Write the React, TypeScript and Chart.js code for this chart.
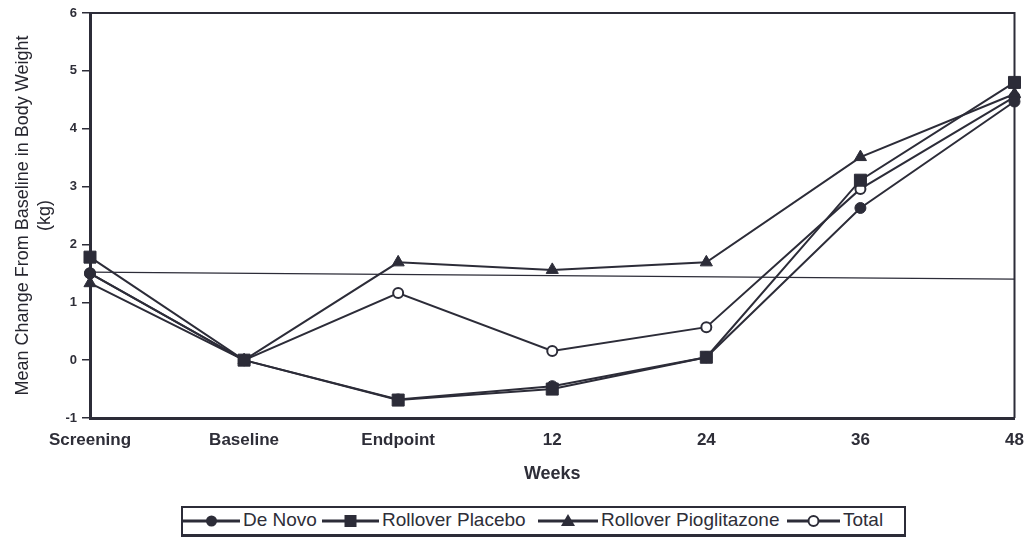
import React, { useEffect, useRef } from "react";
import { Chart, registerables } from "chart.js";

Chart.register(...registerables);

const categories = ["Screening", "Baseline", "Endpoint", "12", "24", "36", "48"];
const deNovo = [1.5, 0, -0.68, -0.45, 0.05, 2.63, 4.47];
const rolloverPlacebo = [1.78, 0, -0.69, -0.5, 0.05, 3.11, 4.8];
const rolloverPioglitazone = [1.33, 0, 1.69, 1.56, 1.69, 3.51, 4.6];
const total = [1.5, 0, 1.16, 0.16, 0.57, 2.96, 4.55];
const referenceLine = [1.52, null, null, null, null, null, 1.4];
const seriesNames = ["De Novo", "Rollover Placebo", "Rollover Pioglitazone", "Total"];
const yTitle = ["Mean Change From Baseline in Body Weight", "(kg)"];
const xTitle = "Weeks";

const INK = "#2c2c38";
const TEXT = "#2e2e38";
const FONT = "Arial, 'Liberation Sans', sans-serif";

const framePlugin = {
  id: "frame",
  beforeDatasetsDraw(chart: any) {
    const { ctx, chartArea } = chart;
    const { left, top, right, bottom } = chartArea;
    ctx.save();
    ctx.strokeStyle = INK;
    ctx.lineWidth = 2;
    ctx.beginPath();
    ctx.moveTo(left, top);
    ctx.lineTo(right, top);
    ctx.lineTo(right, bottom);
    ctx.stroke();
    ctx.restore();
  },
};

function LegendSymbol({ kind, width }: { kind: string; width: number }) {
  const cx = width / 2;
  const cy = 9;
  let marker: React.ReactNode = null;
  if (kind === "circle") marker = <circle cx={cx} cy={cy} r={5.5} fill={INK} />;
  if (kind === "square") marker = <rect x={cx - 6} y={cy - 6} width={12} height={12} fill={INK} />;
  if (kind === "triangle")
    marker = <polygon points={`${cx},${cy - 7} ${cx + 7},${cy + 5} ${cx - 7},${cy + 5}`} fill={INK} />;
  if (kind === "open")
    marker = <circle cx={cx} cy={cy} r={5} fill="#fff" stroke={INK} strokeWidth={2} />;
  return (
    <svg width={width} height={18} style={{ display: "block" }}>
      <line x1={0} y1={cy} x2={width} y2={cy} stroke={INK} strokeWidth={3} />
      {marker}
    </svg>
  );
}

export default function App() {
  const ref = useRef<HTMLCanvasElement>(null);

  useEffect(() => {
    if (!ref.current) return;
    const mk = (label: string, data: (number | null)[], style: any, radius: number, open = false) => ({
      label,
      data,
      borderColor: INK,
      backgroundColor: open ? "#ffffff" : INK,
      pointBackgroundColor: open ? "#ffffff" : INK,
      pointBorderColor: INK,
      pointBorderWidth: open ? 2 : 1,
      borderWidth: 2,
      pointStyle: style,
      pointRadius: radius,
      tension: 0,
      fill: false,
      clip: false,
    });
    const chart = new Chart(ref.current, {
      type: "line",
      data: {
        labels: categories,
        datasets: [
          mk(seriesNames[0], deNovo, "circle", 5.5),
          mk(seriesNames[1], rolloverPlacebo, "rect", 8.5),
          mk(seriesNames[2], rolloverPioglitazone, "triangle", 7),
          mk(seriesNames[3], total, "circle", 5, true),
          {
            label: "ref",
            data: referenceLine,
            borderColor: INK,
            borderWidth: 1.2,
            pointRadius: 0,
            spanGaps: true,
            fill: false,
          } as any,
        ],
      },
      options: {
        animation: false,
        responsive: false,
        events: [],
        layout: { padding: { top: 13, right: 8, left: 0, bottom: 0 } },
        plugins: { legend: { display: false }, tooltip: { enabled: false } },
        scales: {
          x: {
            type: "category",
            offset: false,
            grid: { display: false, drawTicks: false },
            border: { display: true, color: INK, width: 3 },
            ticks: {
              color: TEXT,
              font: { family: FONT, size: 17, weight: "bold" },
              padding: 12,
              maxRotation: 0,
              autoSkip: false,
            },
            title: {
              display: true,
              text: xTitle,
              color: TEXT,
              font: { family: FONT, size: 18, weight: "bold" },
              padding: { top: 0, bottom: 15 },
            },
            afterFit(scale: any) {
              scale.height = 82;
              scale.paddingLeft = 0;
              scale.paddingRight = 0;
            },
          },
          y: {
            min: -1,
            max: 6,
            ticks: {
              stepSize: 1,
              color: TEXT,
              font: { family: FONT, size: 13, weight: "bold" },
              padding: 5,
            },
            grid: {
              drawOnChartArea: false,
              drawTicks: true,
              tickLength: 8,
              color: INK,
              lineWidth: 1.5,
            },
            border: { display: true, color: INK, width: 3 },
            title: {
              display: true,
              text: yTitle,
              color: "#26262f",
              font: { family: FONT, size: 18, lineHeight: 1.22 },
              padding: { top: 12, bottom: 0 },
            },
            afterFit(scale: any) {
              scale.width = 90;
            },
          },
        },
      },
      plugins: [framePlugin],
    } as any);
    return () => chart.destroy();
  }, []);

  const legendItems = [
    { kind: "circle", symLeft: 183, symW: 57, textLeft: 243, name: seriesNames[0] },
    { kind: "square", symLeft: 322, symW: 57, textLeft: 382, name: seriesNames[1] },
    { kind: "triangle", symLeft: 538, symW: 60, textLeft: 601, name: seriesNames[2] },
    { kind: "open", symLeft: 787, symW: 53, textLeft: 843, name: seriesNames[3] },
  ];

  return (
    <div style={{ position: "absolute", left: 0, top: 0, width: 1024, height: 539, background: "#fff", overflow: "hidden" }}>
      <canvas ref={ref} width={1024} height={500} style={{ position: "absolute", left: 0, top: 0, display: "block" }} />
      <div
        style={{
          position: "absolute",
          left: 181,
          top: 506,
          width: 721,
          height: 26,
          border: `2px solid ${INK}`,
          borderBottomWidth: 3,
        }}
      />
      {legendItems.map((it) => (
        <React.Fragment key={it.name}>
          <div style={{ position: "absolute", left: it.symLeft, top: 512 }}>
            <LegendSymbol kind={it.kind} width={it.symW} />
          </div>
          <div
            style={{
              position: "absolute",
              left: it.textLeft,
              top: 509,
              fontFamily: FONT,
              fontSize: 19,
              lineHeight: "22px",
              color: TEXT,
              whiteSpace: "nowrap",
            }}
          >
            {it.name}
          </div>
        </React.Fragment>
      ))}
    </div>
  );
}
